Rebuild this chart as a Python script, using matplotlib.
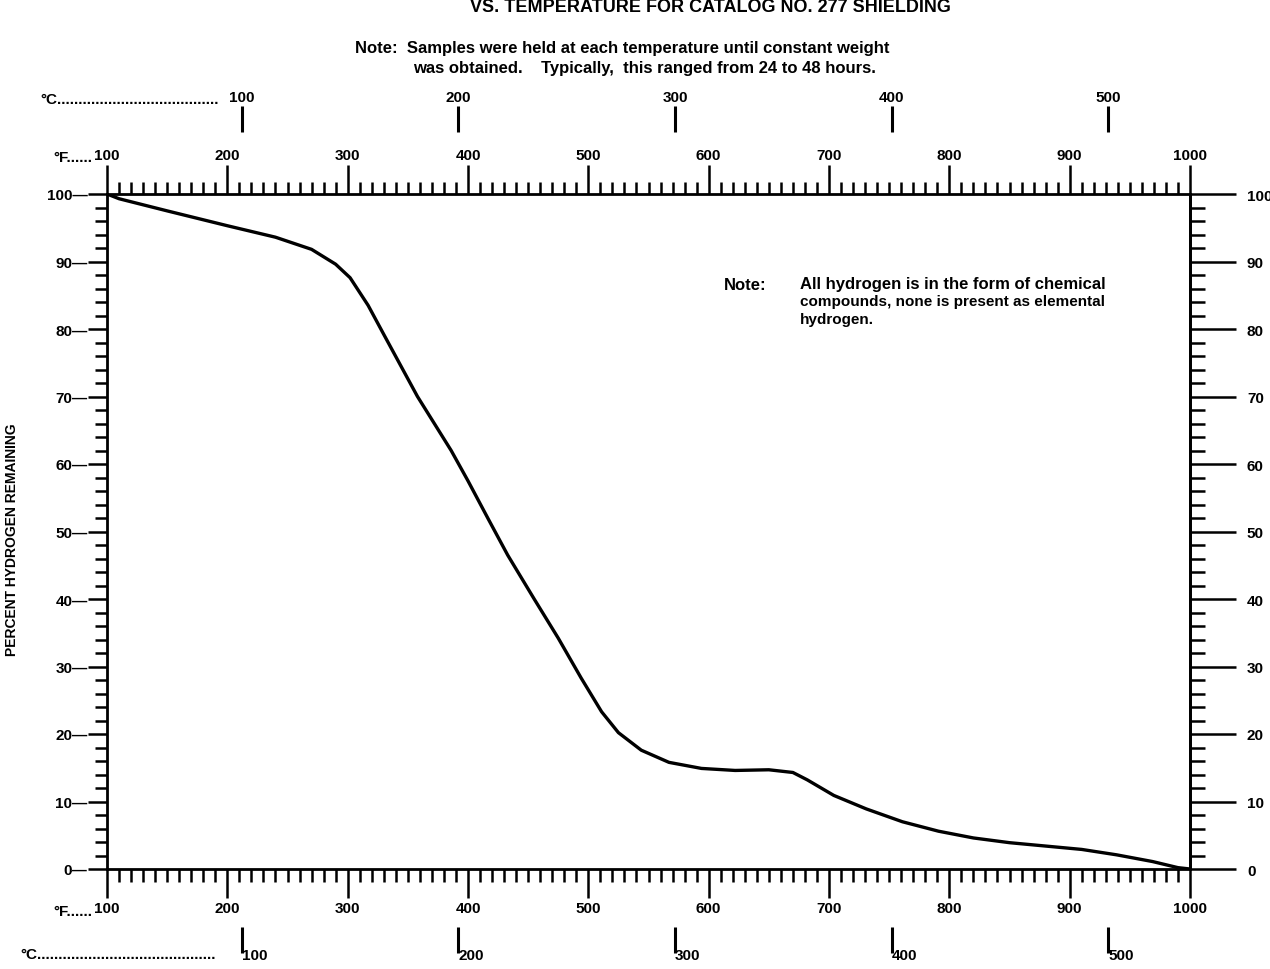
import matplotlib
matplotlib.use("Agg")
import matplotlib.pyplot as plt
import numpy as np

plt.rcParams['font.family'] = ['Liberation Sans Narrow', 'Liberation Sans', 'DejaVu Sans']
plt.rcParams['font.weight'] = 'bold'

# temperature (deg F) vs percent hydrogen remaining
temp_f = [100, 110, 150, 200, 240, 270, 290, 302, 317, 330, 344, 358, 372, 386,
          400, 417, 433, 455, 475, 494, 511, 525, 544, 567, 594, 622, 650, 670,
          682, 704, 731, 761, 791, 820, 850, 880, 910, 939, 969, 990, 1000]
pct_h = [100, 99.3, 97.5, 95.3, 93.6, 91.8, 89.6, 87.6, 83.5, 79.2, 74.6, 70.0,
         66.0, 62.0, 57.5, 51.8, 46.5, 40.0, 34.2, 28.3, 23.3, 20.2, 17.6, 15.8,
         14.9, 14.6, 14.7, 14.3, 13.2, 10.9, 8.9, 7.0, 5.6, 4.6, 3.9, 3.4, 2.9,
         2.1, 1.1, 0.2, 0]

f_ticks = np.arange(100, 1001, 100)
c_ticks = [100, 200, 300, 400, 500]
y_ticks = np.arange(0, 101, 10)

def f2c(f):
    return (np.asarray(f) - 32) * 5 / 9

def c2f(c):
    return np.asarray(c) * 9 / 5 + 32

fig = plt.figure(figsize=(12.7, 9.7), dpi=100)
W, H = 1270, 970
ax = fig.add_axes([107 / W, 1 - 870 / H, (1190 - 107) / W, (870 - 195) / H])

ax.plot(temp_f, pct_h, color='black', lw=2.4, solid_joinstyle='round')
ax.set_xlim(100, 1000)
ax.set_ylim(0, 100)
for s in ax.spines.values():
    s.set_linewidth(2)

# Fahrenheit scale top and bottom
ax.set_xticks(f_ticks)
ax.set_xticks(np.arange(100, 1001, 10), minor=True)
ax.set_xticklabels([str(v) for v in f_ticks])
ax.tick_params(axis='x', which='both', top=True, labeltop=True, direction='out', width=1.8)
ax.tick_params(axis='x', which='major', length=21, labelsize=11, pad=2)
ax.tick_params(axis='x', which='minor', length=9)

# percent scale left
ax.set_yticks(y_ticks)
ax.set_yticks(np.arange(0, 101, 2), minor=True)
ax.set_yticklabels([f"{v}\u2014" for v in y_ticks])
ax.tick_params(axis='y', which='both', direction='out', width=1.8)
ax.tick_params(axis='y', which='major', length=14, labelsize=11, pad=0)
ax.tick_params(axis='y', which='minor', length=9)

# percent scale right
axr = ax.secondary_yaxis('right')
axr.set_yticks(y_ticks)
axr.set_yticks(np.arange(0, 101, 2), minor=True)
axr.spines['right'].set_linewidth(2)
axr.tick_params(which='both', direction='out', width=1.8)
axr.tick_params(which='major', length=33, labelsize=11, pad=8)
axr.tick_params(which='minor', length=11)

# Celsius scales
axc_top = ax.secondary_xaxis(1.092, functions=(f2c, c2f))
axc_top.set_xticks(c_ticks)
axc_top.xaxis.set_minor_locator(matplotlib.ticker.NullLocator())
axc_top.spines['top'].set_visible(False)
axc_top.tick_params(direction='out', length=19, width=2.2, labelsize=11, pad=1)

axc_bot = ax.secondary_xaxis(-0.086, functions=(f2c, c2f))
axc_bot.set_xticks(c_ticks)
axc_bot.xaxis.set_minor_locator(matplotlib.ticker.NullLocator())
axc_bot.spines['bottom'].set_visible(False)
axc_bot.tick_params(direction='out', length=19, width=2.2, labelsize=11, pad=-4)
for t in axc_bot.get_xticklabels():
    t.set_ha('left')

fs = 11
fig.text(92 / W, 1 - 158 / H, "\u00b0F......", ha='right', va='center', fontsize=fs)
fig.text(92 / W, 1 - 912 / H, "\u00b0F......", ha='right', va='center', fontsize=fs)
fig.text(40 / W, 1 - 100 / H, "\u00b0C" + "." * 38, ha='left', va='center', fontsize=fs)
fig.text(20 / W, 1 - 955 / H, "\u00b0C" + "." * 42, ha='left', va='center', fontsize=fs)

ax.set_ylabel("PERCENT HYDROGEN REMAINING", fontsize=10, fontweight='bold')
ax.yaxis.set_label_coords(-88 / (1190 - 107), 0.49)

# notes
fig.text(470 / W, 1 - 12 / H, "VS. TEMPERATURE FOR CATALOG NO. 277 SHIELDING",
         ha='left', va='baseline', fontsize=13)
fig.text(355 / W, 1 - 48 / H, "Note:  Samples were held at each temperature until constant weight",
         ha='left', va='center', fontsize=12)
fig.text(413 / W, 1 - 68 / H, "was obtained.    Typically,  this ranged from 24 to 48 hours.",
         ha='left', va='center', fontsize=12)

fig.text(724 / W, 1 - 285 / H, "Note:", ha='left', va='center', fontsize=12)
fig.text(800 / W, 1 - 285 / H, "All hydrogen is in the form of chemical",
         ha='left', va='center', fontsize=12)
fig.text(800 / W, 1 - 302 / H, "compounds, none is present as elemental",
         ha='left', va='center', fontsize=11)
fig.text(800 / W, 1 - 320 / H, "hydrogen.", ha='left', va='center', fontsize=11)

fig.savefig("out.png", dpi=100)
